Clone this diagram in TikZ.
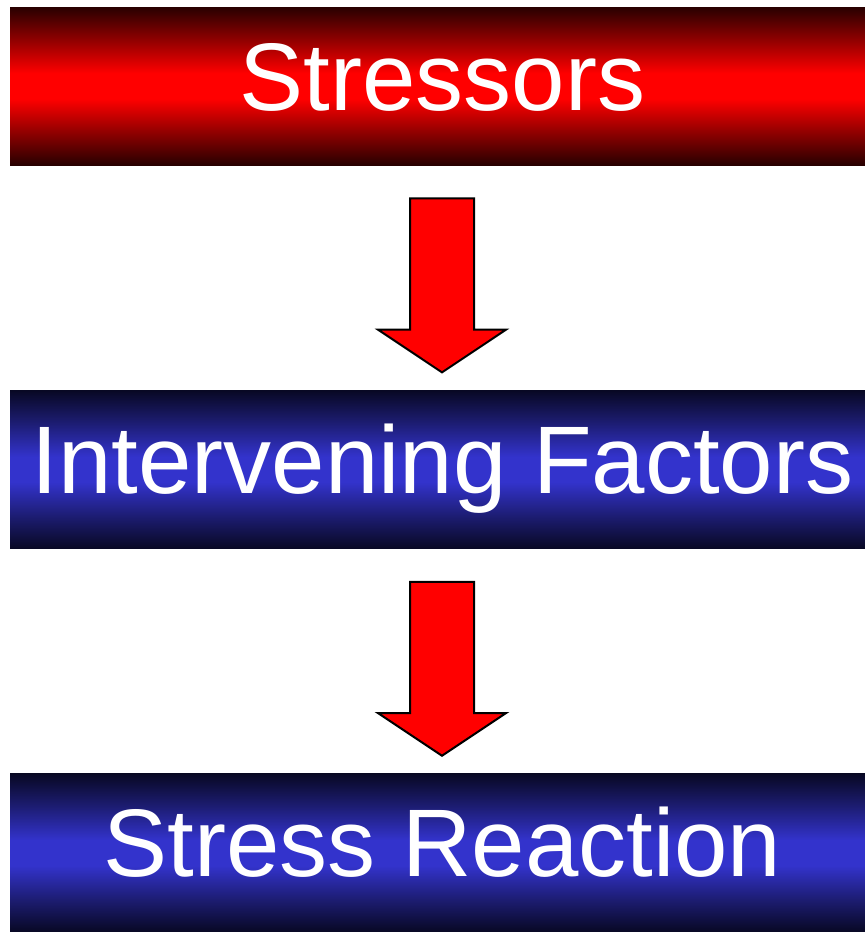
\documentclass[tikz,border=0pt]{standalone}
\usepackage{fontspec}
\setmainfont{Liberation Sans}
\usepackage{xcolor}
\usetikzlibrary{positioning,shapes.arrows,calc}

\definecolor{darkred}{RGB}{40,0,0}
\definecolor{darkblue}{RGB}{8,8,36}
\definecolor{midblue}{RGB}{51,51,204}

\pgfdeclareverticalshading{redbar}{100bp}{color(0bp)=(darkred);
  color(25bp)=(darkred); color(35bp)=(red!55!black); color(46bp)=(red);
  color(54bp)=(red); color(65bp)=(red!55!black); color(75bp)=(darkred);
  color(100bp)=(darkred)}
\pgfdeclareverticalshading{bluebar}{100bp}{color(0bp)=(darkblue);
  color(25bp)=(darkblue); color(35bp)=(midblue!55!black); color(46bp)=(midblue);
  color(54bp)=(midblue); color(65bp)=(midblue!55!black); color(75bp)=(darkblue);
  color(100bp)=(darkblue)}

\begin{document}
\begin{tikzpicture}[x=1pt,y=-1pt,node distance=225pt]

\tikzstyle{block} = [rectangle, minimum width=855pt, minimum height=158pt,
                     inner sep=0pt, text height=103pt, text depth=55pt,
                     text=white, font=\fontsize{96}{110}\selectfont,
                     execute at begin node=\hspace*{10pt}]
\tikzstyle{redblock} = [block, shading=redbar]
\tikzstyle{blueblock} = [block, shading=bluebar]
\tikzstyle{downarrow} = [single arrow, draw=black, line width=2pt, fill=red,
                         rotate=-90, inner sep=0pt, text height=31pt,
                         text depth=31pt, minimum height=174pt,
                         single arrow head extend=32pt,
                         single arrow tip angle=112.6]

\useasboundingbox (0,0) rectangle (865,932);

\node[redblock]               (S) at (437.5,86) {Stressors};
\node[blueblock,below=of S]   (I) {Intervening Factors};
\node[blueblock,below=of I]   (R) {Stress Reaction};

\node[downarrow] (A1) at ([xshift=4.5pt,yshift=3pt]$(S.south)!0.5!(I.north)$) {};
\node[downarrow] (A2) at ([xshift=4.5pt,yshift=3pt]$(I.south)!0.5!(R.north)$) {};

\end{tikzpicture}
\end{document}
